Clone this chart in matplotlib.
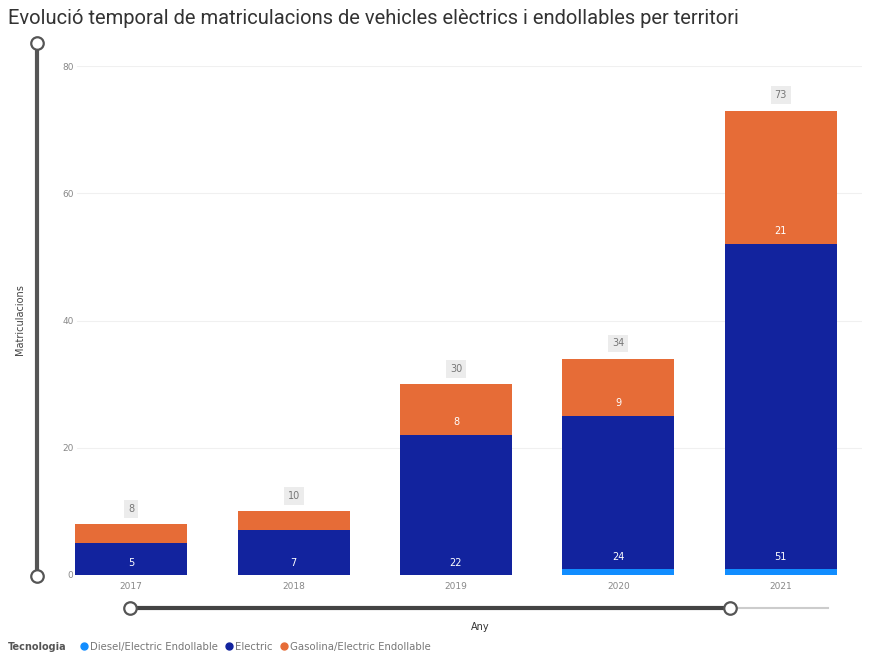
import matplotlib
matplotlib.use("Agg")
import matplotlib.pyplot as plt
from matplotlib.lines import Line2D
import numpy as np

# data
years = ["2017", "2018", "2019", "2020", "2021"]
diesel = [0, 0, 0, 1, 1]
electric = [5, 7, 22, 24, 51]
gasolina = [3, 3, 8, 9, 21]
yticks = [0, 20, 40, 60, 80]
series_names = ["Diesel/Electric Endollable", "Electric", "Gasolina/Electric Endollable"]
colors = ["#118DFF", "#12239E", "#E66C37"]

W, H = 869, 657
fig = plt.figure(figsize=(W / 100, H / 100), dpi=100)
fig.patch.set_facecolor("white")

# main axes placed in pixel terms
left, right, top, bottom = 50, 862, 66, 575
ax = fig.add_axes([left / W, 1 - bottom / H, (right - left) / W, (bottom - top) / H])

x = np.arange(len(years))
diesel = np.array(diesel)
electric = np.array(electric)
gasolina = np.array(gasolina)
totals = diesel + electric + gasolina
bw = 0.69

ax.bar(x, diesel, bw, color=colors[0], zorder=3)
ax.bar(x, electric, bw, bottom=diesel, color=colors[1], zorder=3)
ax.bar(x, gasolina, bw, bottom=diesel + electric, color=colors[2], zorder=3)

# segment labels (inside base), skip the small ones
for i in range(len(years)):
    ax.text(x[i], diesel[i] + 1.9, str(electric[i]), ha="center", va="center",
            color="white", fontsize=7, zorder=4)
    if gasolina[i] >= 5:
        ax.text(x[i], diesel[i] + electric[i] + 2.0, str(gasolina[i]), ha="center",
                va="center", color="white", fontsize=7, zorder=4)
    ax.text(x[i], totals[i] + 2.4, str(totals[i]), ha="center", va="center",
            color="#777777", fontsize=7, zorder=4,
            bbox=dict(boxstyle="square,pad=0.4", fc="#ececec", ec="none"))

ax.set_xlim(-0.5, len(years) - 0.5)
ax.set_ylim(0, 80)
ax.set_yticks(yticks)
ax.set_xticks(x)
ax.set_xticklabels(years)
ax.tick_params(axis="both", length=0, labelsize=6.5, labelcolor="#888888")
ax.tick_params(axis="x", pad=5)
ax.tick_params(axis="y", pad=-17)
for yv in yticks[1:]:
    ax.axhline(yv, xmin=0.033, xmax=1, color="#f0f0f0", linewidth=0.8, zorder=0)
for s in ax.spines.values():
    s.set_visible(False)

# overlay in pixel coordinates for title, sliders, legend
ov = fig.add_axes([0, 0, 1, 1], zorder=-1)
ov.set_xlim(0, W)
ov.set_ylim(H, 0)
ov.axis("off")
ov.patch.set_alpha(0)

fig.text(8 / W, 1 - 18 / H, "Evolució temporal de matriculacions de vehicles elèctrics i endollables per territori",
         fontsize=14.5, color="#333333", va="center", ha="left", family="Roboto")

fig.text(20 / W, 1 - 320 / H, "Matriculacions", fontsize=7, color="#444444",
         rotation=90, ha="center", va="center")

# vertical slider
ov.plot([37, 37], [43, 576], color="#555555", lw=3, solid_capstyle="butt", zorder=1)
ov.plot([37, 37], [43, 576], "o", ms=9, mfc="white", mec="#555555", mew=1.6, zorder=2)

# horizontal slider
ov.plot([130, 730], [608, 608], color="#444444", lw=3, solid_capstyle="butt", zorder=1)
ov.plot([730, 828], [608, 608], color="#cccccc", lw=1.5, zorder=1)
ov.plot([130, 730], [608, 608], "o", ms=9, mfc="white", mec="#555555", mew=1.6, zorder=2)

fig.text(480 / W, 1 - 627 / H, "Any", fontsize=7, color="#333333", ha="center", va="center")

# legend
fig.text(8 / W, 1 - 647 / H, "Tecnologia", fontsize=7, color="#555555", weight="bold",
         ha="left", va="center")
handles = [Line2D([], [], marker="o", ls="none", color=c, ms=5) for c in colors]
fig.legend(handles, series_names, loc="center left", bbox_to_anchor=(74 / W, 1 - 647 / H),
           ncol=3, frameon=False, fontsize=7.3, labelcolor="#777777", handletextpad=0.0,
           columnspacing=0.5, borderaxespad=0, handlelength=1.2)

fig.savefig("out.png", dpi=100)
